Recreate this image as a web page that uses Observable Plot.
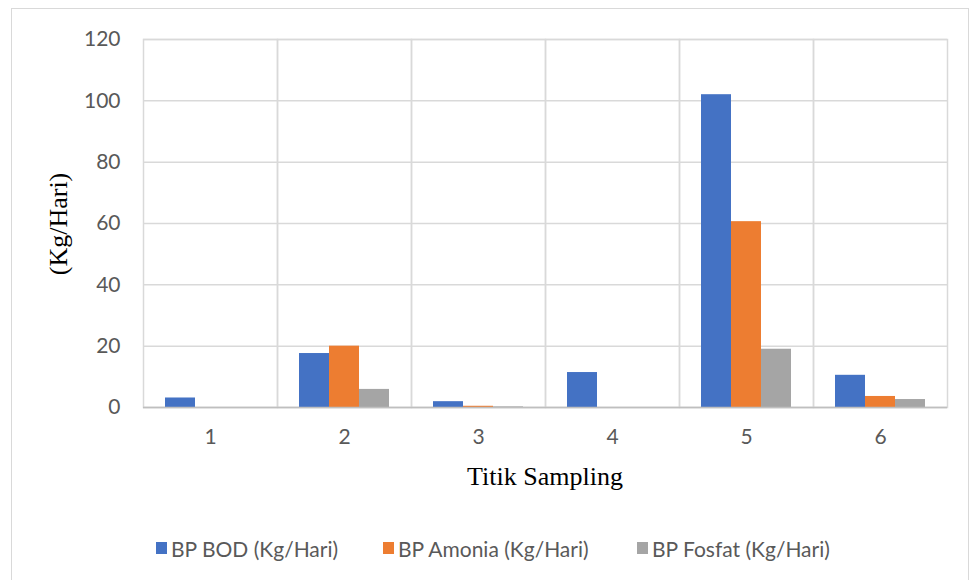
<!DOCTYPE html>
<html>
<head>
<meta charset="utf-8">
<script src="https://cdn.jsdelivr.net/npm/d3@7"></script>
<script src="https://cdn.jsdelivr.net/npm/@observablehq/plot@0.6"></script>
<style>
  html, body { margin: 0; padding: 0; background: #fff; }
  #wrap { position: relative; width: 971px; height: 580px; overflow: hidden; }
  #legend { position: absolute; left: 0; top: 535px; width: 971px; height: 26px; font-family: Lato, sans-serif; font-size: 21px; color: #595959; }
  .item { position: absolute; top: 0; display: flex; align-items: center; height: 26px; white-space: nowrap; }
  .sw { width: 11px; height: 12px; margin-right: 4px; }
</style>
</head>
<body>
<div id="wrap"></div>
<script>
const categories = ["1", "2", "3", "4", "5", "6"];
const seriesNames = ["BP BOD (Kg/Hari)", "BP Amonia (Kg/Hari)", "BP Fosfat (Kg/Hari)"];
const bod    = [3.1, 17.6, 1.9, 11.4, 102.0, 10.5];
const amonia = [0, 20.0, 0.4, 0, 60.6, 3.6];
const fosfat = [0, 5.9, 0.2, 0, 19.0, 2.6];
const yTicks = [0, 20, 40, 60, 80, 100, 120];
const colors = ["#4472c4", "#ed7d31", "#a5a5a5"];
const xTitle = "Titik Sampling";
const yTitle = "(Kg/Hari)";

const seriesValues = [bod, amonia, fosfat];
const rows = [];
categories.forEach((c, i) => {
  seriesNames.forEach((s, j) => rows.push({cat: c, series: s, value: seriesValues[j][i]}));
});

const W = 971, H = 580;
const chart = Plot.plot({
  width: W, height: H,
  marginLeft: 142, marginRight: 23, marginTop: 39, marginBottom: 173,
  style: {fontFamily: "Lato, sans-serif", fontSize: "21px", color: "#595959", background: "transparent"},
  fx: {domain: categories, padding: 0, label: null, axis: "bottom", tickSize: 0, tickPadding: 22},
  x: {domain: seriesNames, paddingInner: 0, paddingOuter: 0.733, axis: null},
  y: {domain: [0, 120], ticks: yTicks, label: null, tickSize: 0, tickPadding: 23, axis: "left"},
  color: {domain: seriesNames, range: colors},
  marks: [
    Plot.ruleY(yTicks, {stroke: "#d9d9d9", strokeWidth: 1.5}),
    Plot.frame({stroke: "#d9d9d9", strokeWidth: 1.5}),
    Plot.barY(rows, {fx: "cat", x: "series", y: "value", fill: "series"}),
    Plot.ruleY([0], {stroke: "#bfbfbf", strokeWidth: 1.5})
  ]
});

const wrap = document.getElementById("wrap");
wrap.appendChild(chart);

const svg = d3.select(chart);
svg.insert("rect", ":first-child")
  .attr("x", 11.5).attr("y", 8.5).attr("width", 957).attr("height", 580)
  .attr("fill", "none").attr("stroke", "#d9d9d9").attr("stroke-width", 1);
svg.append("text")
  .attr("x", 545).attr("y", 485)
  .attr("text-anchor", "middle")
  .attr("font-family", "'Liberation Serif', 'Times New Roman', serif")
  .attr("font-size", 26).attr("fill", "#000")
  .text(xTitle);
svg.append("text")
  .attr("transform", "translate(67,224) rotate(-90)")
  .attr("text-anchor", "middle")
  .attr("font-family", "'Liberation Serif', 'Times New Roman', serif")
  .attr("font-size", 26).attr("fill", "#000")
  .text(yTitle);

const legend = document.createElement("div");
legend.id = "legend";
const lefts = [156, 383, 637];
seriesNames.forEach((s, i) => {
  const it = document.createElement("div");
  it.className = "item";
  it.style.left = lefts[i] + "px";
  const sw = document.createElement("div");
  sw.className = "sw";
  sw.style.background = colors[i];
  const tx = document.createElement("span");
  tx.textContent = s;
  it.appendChild(sw); it.appendChild(tx);
  legend.appendChild(it);
});
wrap.appendChild(legend);
</script>
</body>
</html>
